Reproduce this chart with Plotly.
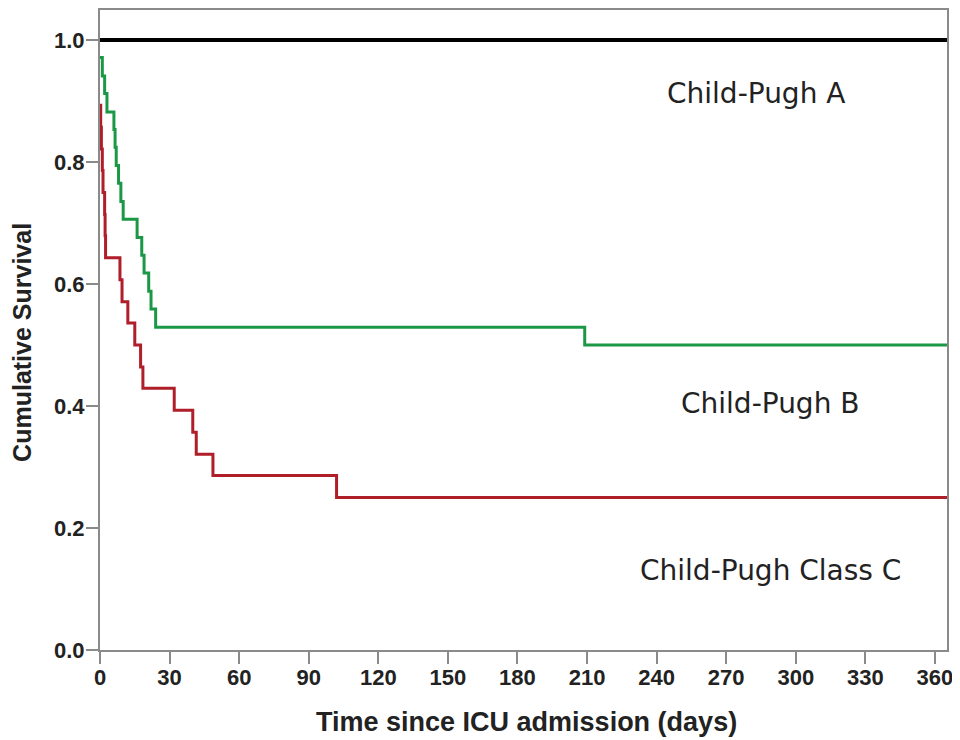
import plotly.graph_objects as go

# Kaplan-Meier step data (time in days, cumulative survival)
a_days = [0, 366]
a_surv = [1.0, 1.0]

b_days = [0, 1, 2, 3, 6, 6.5, 7, 8, 9, 10, 16, 18, 19, 21, 22, 24, 209, 366]
b_surv = [0.971, 0.941, 0.912, 0.882, 0.853, 0.824, 0.794, 0.765, 0.735, 0.706,
          0.676, 0.647, 0.618, 0.588, 0.559, 0.529, 0.5, 0.5]

c_days = [0, 0.3, 0.6, 1, 1.3, 2, 2.2, 2.4, 8.6, 9.5, 12, 15, 17.5, 18.5, 32, 40, 41.5, 48.7, 102, 366]
c_surv = [0.893, 0.857, 0.821, 0.786, 0.75, 0.714, 0.679, 0.643, 0.607, 0.571,
          0.536, 0.5, 0.464, 0.429, 0.393, 0.357, 0.321, 0.286, 0.25, 0.25]

x_ticks = list(range(0, 361, 30))
y_ticks = [0.0, 0.2, 0.4, 0.6, 0.8, 1.0]
y_tick_text = ["0.0", "0.2", "0.4", "0.6", "0.8", "1.0"]

labels = ["Child-Pugh A", "Child-Pugh B", "Child-Pugh Class C"]
label_x = [283, 289, 289]
label_y = [0.912, 0.404, 0.131]

x_title = "Time since ICU admission (days)"
y_title = "Cumulative Survival"

fig = go.Figure()
fig.add_trace(go.Scatter(x=a_days, y=a_surv, mode="lines", line=dict(color="#000000", width=4, shape="hv"),
                         showlegend=False, hoverinfo="skip"))
fig.add_trace(go.Scatter(x=b_days, y=b_surv, mode="lines", line=dict(color="#1b9846", width=3, shape="hv"),
                         showlegend=False, hoverinfo="skip"))
fig.add_trace(go.Scatter(x=c_days, y=c_surv, mode="lines", line=dict(color="#b01e2a", width=3, shape="hv"),
                         showlegend=False, hoverinfo="skip"))

for t, x, y in zip(labels, label_x, label_y):
    fig.add_annotation(x=x, y=y, xref="x", yref="y", text=t, showarrow=False,
                       font=dict(family="DejaVu Sans", size=28, color="#222222"))

fig.add_annotation(x=0.504, y=-0.112, xref="paper", yref="paper", text=x_title, showarrow=False,
                   xanchor="center", yanchor="middle",
                   font=dict(family="Liberation Sans", size=27, color="#222222", weight="bold"))
fig.add_annotation(x=-0.092, y=0.48, xref="paper", yref="paper", text=y_title, showarrow=False,
                   textangle=-90, xanchor="center", yanchor="middle",
                   font=dict(family="Liberation Sans", size=25, color="#222222", weight="bold"))

tick_font = dict(family="Liberation Sans", size=22, color="#222222", weight="bold")
fig.update_layout(
    width=960, height=740,
    margin=dict(l=92, r=21, t=0, b=98),
    paper_bgcolor="white", plot_bgcolor="white",
    xaxis=dict(range=[0, 365.2], tickvals=x_ticks, ticktext=[str(v) for v in x_ticks],
               showgrid=False, zeroline=False, showline=True, mirror=True,
               linecolor="#8a8a8a", linewidth=2, ticks="outside", ticklen=12, tickwidth=2,
               tickcolor="#8a8a8a", tickfont=tick_font, ticklabelstandoff=-5),
    yaxis=dict(range=[0, 1.049], tickvals=y_ticks, ticktext=y_tick_text,
               showgrid=False, zeroline=False, showline=True, mirror=True,
               linecolor="#8a8a8a", linewidth=2, ticks="outside", ticklen=12, tickwidth=2,
               tickcolor="#8a8a8a", tickfont=tick_font, ticklabelstandoff=-3),
)

fig.write_html("out.html")
